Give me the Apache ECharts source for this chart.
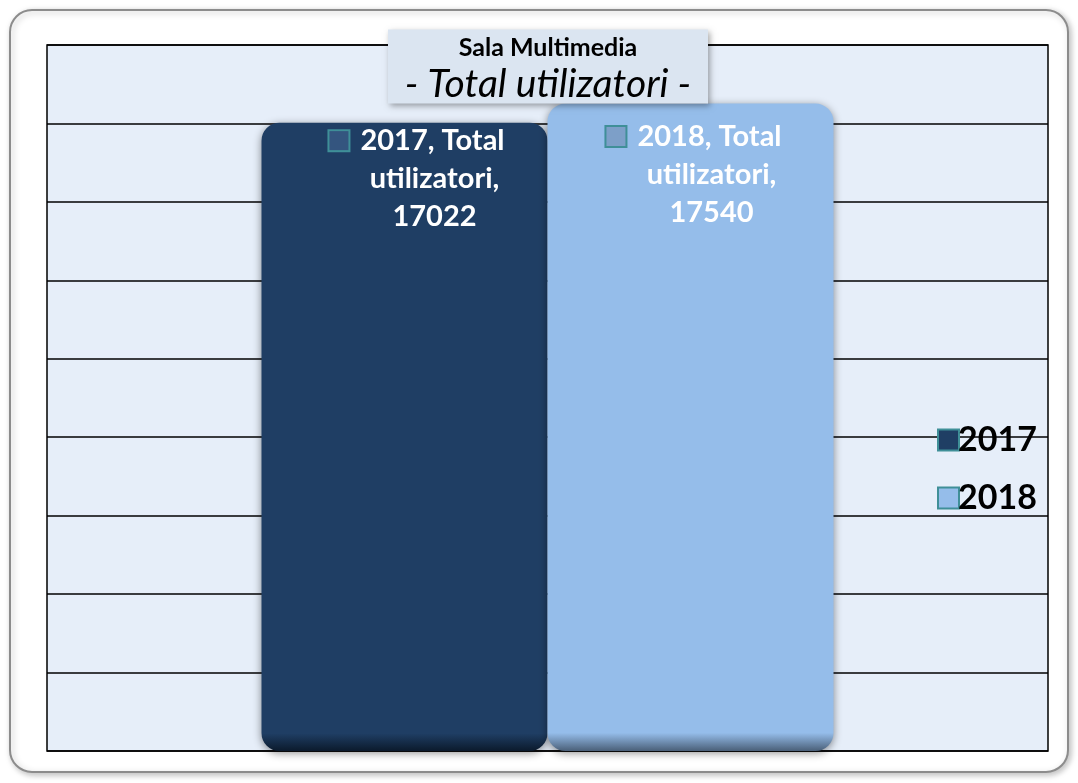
<!DOCTYPE html>
<html>
<head>
<meta charset="utf-8">
<script src="https://cdn.jsdelivr.net/npm/echarts@6/dist/echarts.min.js"></script>
<style>
  html, body { margin: 0; padding: 0; background: #fff; }
  #main { width: 1078px; height: 783px; }
</style>
</head>
<body>
<div id="main"></div>
<script>
var categories = ['Total utilizatori'];
var years = ['2017', '2018'];
var values2017 = [17022];
var values2018 = [17540];
var colors = ['#1f3e64', '#95bdea'];

var dom = document.getElementById('main');
var myChart = echarts.init(dom);
var font = 'Lato, "Open Sans", sans-serif';

function barColor(c, edge) {
    return new echarts.graphic.LinearGradient(0, 0, 0, 1, [
        { offset: 0, color: c },
        { offset: 0.972, color: c },
        { offset: 1, color: edge }
    ]);
}

function labelFor(year, idx, distance, dx) {
    return {
        show: true,
        position: 'insideTop',
        distance: distance,
        offset: [dx, 0],
        fontFamily: font,
        formatter: function (p) {
            return '{icon' + idx + '|}{gap|}{t|' + year + ', Total}{pad|}\n{t|utilizatori,}\n{t|' + p.value + '}';
        },
        rich: {
            t: { color: '#fff', fontSize: 29, fontWeight: 'bold', lineHeight: 38, fontFamily: font },
            gap: { width: 12 },
            pad: { width: 35 },
            icon0: { width: 19, height: 19, backgroundColor: '#34557f', borderColor: '#3f8f98', borderWidth: 2 },
            icon1: { width: 19, height: 19, backgroundColor: '#7d9fc8', borderColor: '#3f8f98', borderWidth: 2 }
        }
    };
}

var option = {
    animation: false,
    graphic: [{
        type: 'rect',
        shape: { x: 10, y: 10, width: 1058, height: 762, r: 22 },
        style: { fill: '#fff', stroke: '#8c8c8c', lineWidth: 2, shadowBlur: 6, shadowColor: 'rgba(0,0,0,0.25)', shadowOffsetX: 2, shadowOffsetY: 2 },
        z: -10
    }],
    title: {
        text: '{a|Sala Multimedia}\n{b|- Total utilizatori -}',
        left: 388,
        top: 27,
        backgroundColor: '#dbe5f1',
        padding: [6, 10, 0, 10],
        shadowBlur: 6,
        shadowColor: 'rgba(0,0,0,0.35)',
        shadowOffsetX: 2,
        shadowOffsetY: 2,
        z: 10,
        textStyle: {
            width: 300,
            align: 'center',
            fontWeight: 'normal',
            rich: {
                a: { fontFamily: font, fontSize: 25, fontWeight: 'bold', color: '#000', lineHeight: 30, width: 300, align: 'center' },
                b: { fontFamily: font, fontSize: 39, fontStyle: 'italic', fontWeight: 'normal', color: '#000', lineHeight: 42, width: 300, align: 'center' }
            }
        }
    },
    legend: {
        orient: 'vertical',
        left: 932,
        top: 418,
        icon: 'rect',
        itemWidth: 21,
        itemHeight: 21,
        itemGap: 24,
        data: years,
        textStyle: { fontFamily: font, fontSize: 34, fontWeight: 'bold', color: '#000', padding: [0, 0, 0, -6] },
        itemStyle: { borderColor: '#3f8f98', borderWidth: 2 }
    },
    grid: {
        left: 47,
        right: 30,
        top: 45,
        bottom: 32,
        show: true,
        backgroundColor: '#e6eef9',
        borderColor: '#000',
        borderWidth: 1.5
    },
    xAxis: {
        type: 'category',
        data: categories,
        axisLine: { show: false },
        axisTick: { show: false },
        axisLabel: { show: false }
    },
    yAxis: {
        type: 'value',
        min: 0,
        max: 19125,
        interval: 2125,
        axisLine: { show: false },
        axisTick: { show: false },
        axisLabel: { show: false },
        splitLine: { lineStyle: { color: '#000', width: 1.5 } }
    },
    series: [
        {
            name: years[0],
            type: 'bar',
            barWidth: 286,
            barGap: '0%',
            data: values2017,
            itemStyle: {
                color: barColor(colors[0], '#0b1a2c'),
                borderRadius: 18,
                shadowBlur: 8,
                shadowColor: 'rgba(0,0,0,0.45)',
                shadowOffsetY: 2
            },
            label: labelFor(years[0], 0, -1, 30)
        },
        {
            name: years[1],
            type: 'bar',
            barWidth: 286,
            barGap: '0%',
            data: values2018,
            itemStyle: {
                color: barColor(colors[1], '#4a5f78'),
                borderRadius: 18,
                shadowBlur: 8,
                shadowColor: 'rgba(0,0,0,0.45)',
                shadowOffsetY: 2
            },
            label: labelFor(years[1], 1, 14, 21)
        }
    ]
};

if (option && typeof option === 'object') {
    myChart.setOption(option, true);
}
</script>
</body>
</html>
